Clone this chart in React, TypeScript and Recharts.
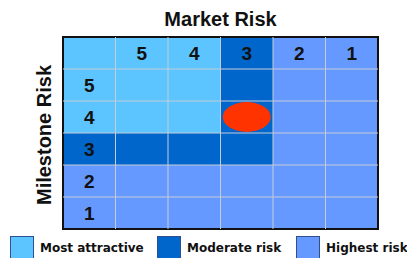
import React from "react";
import {
  ScatterChart,
  Scatter,
  XAxis,
  YAxis,
  ReferenceArea,
  ReferenceLine,
} from "recharts";

// column headers (market risk) and row headers (milestone risk)
const marketRisk = ["5", "4", "3", "2", "1"];
const milestoneRisk = ["5", "4", "3", "2", "1"];

// zone of every cell, header row/column included: A = most attractive, M = moderate, H = highest
const headerZones = ["A", "A", "A", "M", "H", "H"];
const rowZones = [
  ["A", "A", "A", "M", "H", "H"],
  ["A", "A", "A", "M", "H", "H"],
  ["M", "M", "M", "M", "H", "H"],
  ["H", "H", "H", "H", "H", "H"],
  ["H", "H", "H", "H", "H", "H"],
];

// the project being rated
const projectMarket = "3";
const projectMilestone = "4";

const legendItems = [
  { key: "A", name: "Most attractive" },
  { key: "M", name: "Moderate risk" },
  { key: "H", name: "Highest risk" },
];

const zoneColors: Record<string, string> = {
  A: "#5CC4FF",
  M: "#0066CC",
  H: "#6699FF",
};

const W = 407;
const H = 258;
const N = marketRisk.length + 1;

const allRows = [headerZones, ...rowZones];

const colLabels = marketRisk.map((m, i) => ({ x: i + 1.5, y: N - 0.5, label: m }));
const rowLabels = milestoneRisk.map((m, i) => ({ x: 0.5, y: N - 1.5 - i, label: m }));
const project = [
  {
    x: marketRisk.indexOf(projectMarket) + 1.5,
    y: N - 1.5 - milestoneRisk.indexOf(projectMilestone),
  },
];

const NumberText = (props: any) => (
  <text
    x={props.cx}
    y={props.cy}
    textAnchor="middle"
    dominantBaseline="central"
    fontFamily="'Liberation Sans', Arial, sans-serif"
    fontWeight="bold"
    fontSize={19}
    fill="#111"
  >
    {props.payload.label}
  </text>
);

const Blob = (props: any) => (
  <ellipse cx={props.cx} cy={props.cy} rx={24} ry={15} fill="#FF3300" />
);

const App = () => {
  return (
    <div
      style={{
        position: "absolute",
        left: 0,
        top: 0,
        width: W,
        height: H,
        background: "#fff",
        overflow: "hidden",
      }}
    >
      <ScatterChart
        width={W}
        height={H}
        margin={{ top: 37, right: 29, bottom: 29, left: 63 }}
      >
        <XAxis type="number" dataKey="x" domain={[0, N]} hide />
        <YAxis type="number" dataKey="y" domain={[0, N]} hide />
        {allRows.map((row, r) =>
          row.map((z, c) => (
            <ReferenceArea
              key={`${r}-${c}`}
              x1={c}
              x2={c + 1}
              y1={N - 1 - r}
              y2={N - r}
              fill={zoneColors[z]}
              fillOpacity={1}
              stroke="none"
              ifOverflow="visible"
            />
          ))
        )}
        {Array.from({ length: N - 1 }, (_, i) => (
          <ReferenceLine key={`v${i}`} x={i + 1} stroke="#C4CCD8" strokeWidth={1} />
        ))}
        {Array.from({ length: N - 1 }, (_, i) => (
          <ReferenceLine key={`h${i}`} y={i + 1} stroke="#C4CCD8" strokeWidth={1} />
        ))}
        <ReferenceArea
          x1={0}
          x2={N}
          y1={0}
          y2={N}
          fill="none"
          stroke="#111"
          strokeWidth={2}
          ifOverflow="visible"
        />
        <Scatter data={colLabels} shape={NumberText} isAnimationActive={false} />
        <Scatter data={rowLabels} shape={NumberText} isAnimationActive={false} />
        <Scatter data={project} shape={Blob} isAnimationActive={false} />
      </ScatterChart>

      <div
        style={{
          position: "absolute",
          left: 63,
          width: 315,
          top: 8,
          textAlign: "center",
          fontFamily: "'Liberation Sans', Arial, sans-serif",
          fontWeight: "bold",
          fontSize: 20,
          lineHeight: "22px",
          color: "#111",
        }}
      >
        Market Risk
      </div>
      <div
        style={{
          position: "absolute",
          left: 44,
          top: 135,
          transform: "translate(-50%, -50%) rotate(-90deg)",
          whiteSpace: "nowrap",
          fontFamily: "'Liberation Sans', Arial, sans-serif",
          fontWeight: "bold",
          fontSize: 20,
          lineHeight: "22px",
          color: "#111",
        }}
      >
        Milestone Risk
      </div>

      {legendItems.map((item, i) => (
        <div
          key={item.key}
          style={{
            position: "absolute",
            left: [10, 157, 296][i],
            top: 236,
            display: "flex",
            alignItems: "flex-start",
            whiteSpace: "nowrap",
          }}
        >
          <div
            style={{
              width: 24,
              height: 24,
              boxSizing: "border-box",
              background: zoneColors[item.key],
              border: "1px solid #2F4F8F",
            }}
          />
          <span
            style={{
              marginLeft: 6,
              marginTop: 5,
              fontFamily: "'DejaVu Sans', Verdana, sans-serif",
              fontWeight: "bold",
              fontSize: 12,
              lineHeight: "14px",
              color: "#111",
            }}
          >
            {item.name}
          </span>
        </div>
      ))}
    </div>
  );
};

export default App;
